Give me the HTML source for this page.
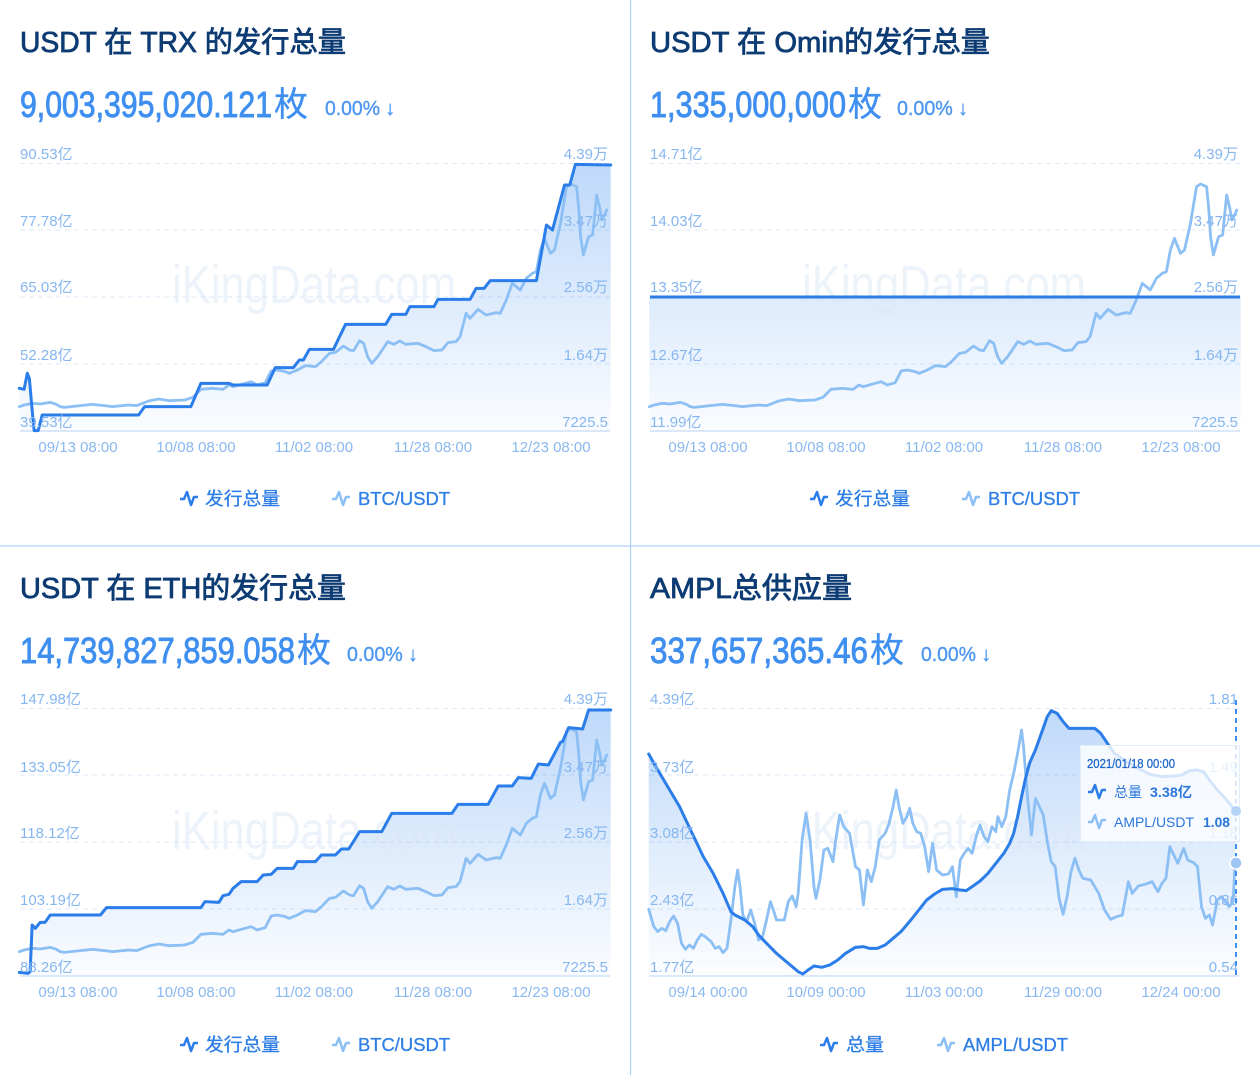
<!DOCTYPE html>
<html><head><meta charset="utf-8">
<style>
html,body{margin:0;padding:0;background:#fff;}
body{width:1260px;height:1092px;overflow:hidden;}
svg{display:block;font-family:"Liberation Sans","Noto Sans CJK SC",sans-serif;}
.ttl{font-size:29px;fill:#0d3b73;stroke:#0d3b73;stroke-width:0.8px;}
.num{font-size:36px;fill:#3f8ff0;stroke:#3f8ff0;stroke-width:0.9px;}
.mei{font-size:34px;fill:#3f8ff0;stroke:#3f8ff0;stroke-width:0.3px;}
.pct{font-size:20px;fill:#4f98f0;stroke:#4f98f0;stroke-width:0.4px;}
.ax{font-size:15px;fill:#86b6f0;}
.axr{font-size:15px;fill:#86b6f0;text-anchor:end;}
.xl{font-size:15px;fill:#8ab8f0;text-anchor:middle;}
.lg{font-size:18px;fill:#2d7ee6;stroke:#2d7ee6;stroke-width:0.3px;}
.wm{font-size:54px;fill:#dce8f7;opacity:0.5;}
.grid{stroke:#dce8f8;stroke-width:1;stroke-dasharray:5,4;}
.base{stroke:#cfe1f7;stroke-width:1.5;}
.p1{fill:none;stroke:#2b7de9;stroke-width:3;stroke-linejoin:round;stroke-linecap:round;}
.p2{fill:none;stroke:#8cbff4;stroke-width:2.8;stroke-linejoin:round;stroke-linecap:round;}
.fa{fill:url(#g);stroke:none;}
</style></head>
<body>
<svg width="1260" height="1092" viewBox="0 0 1260 1092" xmlns="http://www.w3.org/2000/svg">
<defs>
<linearGradient id="g" gradientUnits="userSpaceOnUse" x1="0" y1="75" x2="0" y2="880">
<stop offset="0" stop-color="#3b8cf0" stop-opacity="0.33"/>
<stop offset="1" stop-color="#3b8cf0" stop-opacity="0.02"/>
</linearGradient>
</defs>
<rect width="1260" height="1092" fill="#fff"/>

<line x1="630.5" y1="0" x2="630.5" y2="1075" stroke="#b0d0f5" stroke-width="1.2"/>
<line x1="0" y1="546" x2="1260" y2="546" stroke="#b0d0f5" stroke-width="1.2"/>

<!-- ============ TL ============ -->
<text class="ttl" x="20" y="52" textLength="326" lengthAdjust="spacingAndGlyphs">USDT 在 TRX 的发行总量</text>
<text class="num" x="20" y="117" textLength="252" lengthAdjust="spacingAndGlyphs">9,003,395,020.121</text>
<text class="mei" x="274" y="116">枚</text>
<text class="pct" x="325" y="115" textLength="70" lengthAdjust="spacingAndGlyphs">0.00% ↓</text>

<line class="grid" x1="20" y1="163.5" x2="610" y2="163.5"/>
<line class="grid" x1="20" y1="230" x2="610" y2="230"/>
<line class="grid" x1="20" y1="297" x2="610" y2="297"/>
<line class="grid" x1="20" y1="364" x2="610" y2="364"/>

<g transform="translate(0,140) scale(0.40179,0.33333)">
<path class="fa" d="M48,745 L60,748 L68,700 L73,715 L80,810 L85,872 L95,872 L105,825 L345,825 L360,800 L475,800 L500,730 L570,730 L580,735 L665,735 L685,683 L730,683 L745,660 L755,660 L770,628 L830,628 L860,553 L960,553 L975,523 L1010,523 L1020,500 L1080,500 L1090,478 L1170,478 L1185,445 L1205,445 L1220,422 L1335,422 L1360,255 L1375,270 L1405,135 L1418,135 L1432,73 L1520,75 L1520,873 L48,873 Z"/>
</g>
<text class="wm" x="172" y="303" textLength="284" lengthAdjust="spacingAndGlyphs">iKingData.com</text>
<line class="base" x1="20" y1="431" x2="610" y2="431"/>
<g transform="translate(0,140) scale(0.40179,0.33333)">
<path class="p2" vector-effect="non-scaling-stroke" d="M48,800 L60,795 L80,790 L100,792 L125,787 L140,793 L150,800 L160,802 L200,797 L230,793 L260,797 L280,800 L320,795 L340,797 L370,783 L395,777 L420,782 L460,780 L480,772 L500,748 L530,745 L555,748 L570,735 L580,740 L610,730 L625,725 L640,735 L660,728 L675,693 L690,690 L710,695 L720,700 L740,690 L760,677 L785,680 L800,665 L820,640 L835,637 L855,618 L870,630 L880,632 L895,602 L905,610 L915,650 L925,670 L940,650 L965,605 L980,613 L995,603 L1010,613 L1040,610 L1060,620 L1080,632 L1100,630 L1115,608 L1135,605 L1145,590 L1160,520 L1170,535 L1190,508 L1210,525 L1235,518 L1245,520 L1260,480 L1275,430 L1295,450 L1310,415 L1325,400 L1335,395 L1345,330 L1355,295 L1370,340 L1380,330 L1395,250 L1410,140 L1420,132 L1435,140 L1440,200 L1445,290 L1452,345 L1465,290 L1475,285 L1485,165 L1492,200 L1498,240 L1505,225 L1510,210"/>
<path class="p1" vector-effect="non-scaling-stroke" d="M48,745 L60,748 L68,700 L73,715 L80,810 L85,872 L95,872 L105,825 L345,825 L360,800 L475,800 L500,730 L570,730 L580,735 L665,735 L685,683 L730,683 L745,660 L755,660 L770,628 L830,628 L860,553 L960,553 L975,523 L1010,523 L1020,500 L1080,500 L1090,478 L1170,478 L1185,445 L1205,445 L1220,422 L1335,422 L1360,255 L1375,270 L1405,135 L1418,135 L1432,73 L1520,75"/>
</g>

<text class="ax" x="20" y="159">90.53亿</text>
<text class="ax" x="20" y="226">77.78亿</text>
<text class="ax" x="20" y="292">65.03亿</text>
<text class="ax" x="20" y="360">52.28亿</text>
<text class="ax" x="20" y="427">39.53亿</text>
<text class="axr" x="608" y="159">4.39万</text>
<text class="axr" x="608" y="226">3.47万</text>
<text class="axr" x="608" y="292">2.56万</text>
<text class="axr" x="608" y="360">1.64万</text>
<text class="axr" x="608" y="427">7225.5</text>
<text class="xl" x="78" y="452">09/13 08:00</text>
<text class="xl" x="196" y="452">10/08 08:00</text>
<text class="xl" x="314" y="452">11/02 08:00</text>
<text class="xl" x="433" y="452">11/28 08:00</text>
<text class="xl" x="551" y="452">12/23 08:00</text>

<path d="M180,499 L184,499 L187,492 L191,505 L194,497 L198,497" fill="none" stroke="#2b7de9" stroke-width="2.5" stroke-linejoin="round"/>
<text class="lg" x="205" y="505" textLength="75" lengthAdjust="spacingAndGlyphs">发行总量</text>
<path d="M332,499 L336,499 L339,492 L343,505 L346,497 L350,497" fill="none" stroke="#8cbff4" stroke-width="2.5" stroke-linejoin="round"/>
<text class="lg" x="358" y="505" textLength="92" lengthAdjust="spacingAndGlyphs">BTC/USDT</text>

<!-- ============ TR ============ -->
<text class="ttl" x="650" y="52" textLength="340" lengthAdjust="spacingAndGlyphs">USDT 在 Omin的发行总量</text>
<text class="num" x="650" y="117" textLength="196" lengthAdjust="spacingAndGlyphs">1,335,000,000</text>
<text class="mei" x="848" y="116">枚</text>
<text class="pct" x="897" y="115" textLength="71" lengthAdjust="spacingAndGlyphs">0.00% ↓</text>

<line class="grid" x1="650" y1="163.5" x2="1240" y2="163.5"/>
<line class="grid" x1="650" y1="230" x2="1240" y2="230"/>
<line class="grid" x1="650" y1="364" x2="1240" y2="364"/>
<g transform="translate(630,140) scale(0.40179,0.33333)">
<rect class="fa" x="48" y="470" width="1472" height="403"/>
</g>
<text class="wm" x="802" y="303" textLength="284" lengthAdjust="spacingAndGlyphs">iKingData.com</text>
<line class="base" x1="650" y1="431" x2="1240" y2="431"/>
<g transform="translate(630,140) scale(0.40179,0.33333)">
<path class="p2" vector-effect="non-scaling-stroke" d="M48,800 L60,795 L80,790 L100,792 L125,787 L140,793 L150,800 L160,802 L200,797 L230,793 L260,797 L280,800 L320,795 L340,797 L370,783 L395,777 L420,782 L460,780 L480,772 L500,748 L530,745 L555,748 L570,735 L580,740 L610,730 L625,725 L640,735 L660,728 L675,693 L690,690 L710,695 L720,700 L740,690 L760,677 L785,680 L800,665 L820,640 L835,637 L855,618 L870,630 L880,632 L895,602 L905,610 L915,650 L925,670 L940,650 L965,605 L980,613 L995,603 L1010,613 L1040,610 L1060,620 L1080,632 L1100,630 L1115,608 L1135,605 L1145,590 L1160,520 L1170,535 L1190,508 L1210,525 L1235,518 L1245,520 L1260,480 L1275,430 L1295,450 L1310,415 L1325,400 L1335,395 L1345,330 L1355,295 L1370,340 L1380,330 L1395,250 L1410,140 L1420,132 L1435,140 L1440,200 L1445,290 L1452,345 L1465,290 L1475,285 L1485,165 L1492,200 L1498,240 L1505,225 L1510,210"/>
</g>
<line x1="650" y1="297" x2="1240" y2="297" stroke="#2b7de9" stroke-width="3"/>

<text class="ax" x="650" y="159">14.71亿</text>
<text class="ax" x="650" y="226">14.03亿</text>
<text class="ax" x="650" y="292">13.35亿</text>
<text class="ax" x="650" y="360">12.67亿</text>
<text class="ax" x="650" y="427">11.99亿</text>
<text class="axr" x="1238" y="159">4.39万</text>
<text class="axr" x="1238" y="226">3.47万</text>
<text class="axr" x="1238" y="292">2.56万</text>
<text class="axr" x="1238" y="360">1.64万</text>
<text class="axr" x="1238" y="427">7225.5</text>
<text class="xl" x="708" y="452">09/13 08:00</text>
<text class="xl" x="826" y="452">10/08 08:00</text>
<text class="xl" x="944" y="452">11/02 08:00</text>
<text class="xl" x="1063" y="452">11/28 08:00</text>
<text class="xl" x="1181" y="452">12/23 08:00</text>

<path d="M810,499 L814,499 L817,492 L821,505 L824,497 L828,497" fill="none" stroke="#2b7de9" stroke-width="2.5" stroke-linejoin="round"/>
<text class="lg" x="835" y="505" textLength="75" lengthAdjust="spacingAndGlyphs">发行总量</text>
<path d="M962,499 L966,499 L969,492 L973,505 L976,497 L980,497" fill="none" stroke="#8cbff4" stroke-width="2.5" stroke-linejoin="round"/>
<text class="lg" x="988" y="505" textLength="92" lengthAdjust="spacingAndGlyphs">BTC/USDT</text>

<!-- ============ BL ============ -->
<text class="ttl" x="20" y="598" textLength="326" lengthAdjust="spacingAndGlyphs">USDT 在 ETH的发行总量</text>
<text class="num" x="20" y="663" textLength="275" lengthAdjust="spacingAndGlyphs">14,739,827,859.058</text>
<text class="mei" x="297" y="662">枚</text>
<text class="pct" x="347" y="661" textLength="71" lengthAdjust="spacingAndGlyphs">0.00% ↓</text>

<line class="grid" x1="20" y1="708.5" x2="610" y2="708.5"/>
<line class="grid" x1="20" y1="775" x2="610" y2="775"/>
<line class="grid" x1="20" y1="842" x2="610" y2="842"/>
<line class="grid" x1="20" y1="909" x2="610" y2="909"/>
<g transform="translate(0,685) scale(0.40179,0.33333)">
<path class="fa" d="M48,862 L70,865 L75,860 L80,720 L88,730 L100,712 L112,712 L125,690 L250,690 L265,668 L500,668 L510,650 L545,652 L555,632 L570,628 L580,610 L600,590 L640,590 L655,570 L675,568 L690,550 L730,550 L740,530 L785,530 L800,510 L835,510 L850,492 L868,492 L895,440 L950,440 L975,385 L1125,385 L1140,358 L1215,358 L1240,303 L1275,303 L1290,278 L1322,280 L1340,237 L1365,240 L1395,172 L1400,170 L1415,128 L1450,132 L1465,75 L1520,75 L1520,873 L48,873 Z"/>
</g>
<text class="wm" x="172" y="849" textLength="284" lengthAdjust="spacingAndGlyphs">iKingData.com</text>
<line class="base" x1="20" y1="976" x2="610" y2="976"/>
<g transform="translate(0,685) scale(0.40179,0.33333)">
<path class="p2" vector-effect="non-scaling-stroke" d="M48,800 L60,795 L80,790 L100,792 L125,787 L140,793 L150,800 L160,802 L200,797 L230,793 L260,797 L280,800 L320,795 L340,797 L370,783 L395,777 L420,782 L460,780 L480,772 L500,748 L530,745 L555,748 L570,735 L580,740 L610,730 L625,725 L640,735 L660,728 L675,693 L690,690 L710,695 L720,700 L740,690 L760,677 L785,680 L800,665 L820,640 L835,637 L855,618 L870,630 L880,632 L895,602 L905,610 L915,650 L925,670 L940,650 L965,605 L980,613 L995,603 L1010,613 L1040,610 L1060,620 L1080,632 L1100,630 L1115,608 L1135,605 L1145,590 L1160,520 L1170,535 L1190,508 L1210,525 L1235,518 L1245,520 L1260,480 L1275,430 L1295,450 L1310,415 L1325,400 L1335,395 L1345,330 L1355,295 L1370,340 L1380,330 L1395,250 L1410,140 L1420,132 L1435,140 L1440,200 L1445,290 L1452,345 L1465,290 L1475,285 L1485,165 L1492,200 L1498,240 L1505,225 L1510,210"/>
<path class="p1" vector-effect="non-scaling-stroke" d="M48,862 L70,865 L75,860 L80,720 L88,730 L100,712 L112,712 L125,690 L250,690 L265,668 L500,668 L510,650 L545,652 L555,632 L570,628 L580,610 L600,590 L640,590 L655,570 L675,568 L690,550 L730,550 L740,530 L785,530 L800,510 L835,510 L850,492 L868,492 L895,440 L950,440 L975,385 L1125,385 L1140,358 L1215,358 L1240,303 L1275,303 L1290,278 L1322,280 L1340,237 L1365,240 L1395,172 L1400,170 L1415,128 L1450,132 L1465,75 L1520,75"/>
</g>

<text class="ax" x="20" y="704">147.98亿</text>
<text class="ax" x="20" y="772">133.05亿</text>
<text class="ax" x="20" y="838">118.12亿</text>
<text class="ax" x="20" y="905">103.19亿</text>
<text class="ax" x="20" y="972">88.26亿</text>
<text class="axr" x="608" y="704">4.39万</text>
<text class="axr" x="608" y="772">3.47万</text>
<text class="axr" x="608" y="838">2.56万</text>
<text class="axr" x="608" y="905">1.64万</text>
<text class="axr" x="608" y="972">7225.5</text>
<text class="xl" x="78" y="997">09/13 08:00</text>
<text class="xl" x="196" y="997">10/08 08:00</text>
<text class="xl" x="314" y="997">11/02 08:00</text>
<text class="xl" x="433" y="997">11/28 08:00</text>
<text class="xl" x="551" y="997">12/23 08:00</text>

<path d="M180,1045 L184,1045 L187,1038 L191,1051 L194,1043 L198,1043" fill="none" stroke="#2b7de9" stroke-width="2.5" stroke-linejoin="round"/>
<text class="lg" x="205" y="1051" textLength="75" lengthAdjust="spacingAndGlyphs">发行总量</text>
<path d="M332,1045 L336,1045 L339,1038 L343,1051 L346,1043 L350,1043" fill="none" stroke="#8cbff4" stroke-width="2.5" stroke-linejoin="round"/>
<text class="lg" x="358" y="1051" textLength="92" lengthAdjust="spacingAndGlyphs">BTC/USDT</text>

<!-- ============ BR ============ -->
<text class="ttl" x="650" y="598" textLength="202" lengthAdjust="spacingAndGlyphs">AMPL总供应量</text>
<text class="num" x="650" y="663" textLength="218" lengthAdjust="spacingAndGlyphs">337,657,365.46</text>
<text class="mei" x="870" y="662">枚</text>
<text class="pct" x="921" y="661" textLength="70" lengthAdjust="spacingAndGlyphs">0.00% ↓</text>

<line class="grid" x1="649" y1="708.5" x2="1239" y2="708.5"/>
<line class="grid" x1="649" y1="775" x2="1239" y2="775"/>
<line class="grid" x1="649" y1="842" x2="1239" y2="842"/>
<line class="grid" x1="649" y1="909" x2="1239" y2="909"/>
<g transform="translate(640,680) scale(0.39541,0.33333)">
<path class="fa" d="M22,222 L40,260 L70,320 L100,380 L120,430 L140,480 L160,530 L185,580 L210,640 L230,695 L240,705 L265,720 L285,740 L300,765 L320,790 L345,820 L365,840 L385,860 L400,875 L412,882 L425,870 L440,858 L460,862 L480,855 L500,840 L520,820 L545,802 L565,800 L580,805 L600,805 L620,795 L640,775 L660,755 L685,720 L705,690 L725,660 L745,642 L765,628 L790,626 L810,630 L825,632 L840,620 L860,603 L880,580 L900,550 L920,520 L935,490 L945,460 L955,410 L965,350 L975,295 L985,250 L1000,210 L1015,160 L1030,110 L1040,92 L1055,100 L1070,125 L1085,145 L1150,145 L1165,160 L1185,195 L1200,220 L1230,245 L1260,265 L1290,283 L1320,290 L1350,288 L1370,285 L1390,272 L1410,270 L1425,275 L1440,300 L1460,330 L1480,355 L1505,390 L1505,887 L22,887 Z"/>
</g>
<text class="wm" x="802" y="849" textLength="284" lengthAdjust="spacingAndGlyphs">iKingData.com</text>
<line class="base" x1="649" y1="976" x2="1239" y2="976"/>
<g transform="translate(640,680) scale(0.39541,0.33333)">
<path class="p2" vector-effect="non-scaling-stroke" d="M22,688 L35,740 L45,755 L55,745 L65,752 L75,725 L85,708 L95,730 L105,790 L115,808 L125,795 L135,805 L145,780 L155,763 L165,770 L180,785 L190,805 L200,800 L210,818 L220,805 L230,720 L240,620 L247,570 L253,620 L260,705 L270,725 L280,690 L290,730 L300,780 L310,770 L320,720 L330,665 L340,700 L345,720 L365,720 L375,665 L385,648 L395,680 L400,640 L410,480 L420,400 L430,480 L440,620 L445,655 L455,600 L465,510 L475,505 L488,545 L495,480 L505,405 L515,440 L530,460 L545,560 L555,570 L565,675 L575,570 L585,605 L595,560 L605,480 L620,460 L630,430 L640,380 L648,330 L655,380 L665,430 L675,410 L682,385 L690,430 L700,455 L710,460 L720,500 L730,575 L740,490 L750,570 L765,585 L780,582 L790,560 L800,650 L810,540 L820,520 L830,505 L840,520 L850,470 L860,435 L870,470 L880,485 L890,440 L900,455 L905,410 L915,440 L925,410 L935,330 L945,280 L955,220 L965,150 L970,200 L980,350 L990,465 L1000,355 L1010,380 L1020,405 L1030,485 L1040,545 L1050,560 L1060,655 L1070,703 L1080,650 L1090,575 L1100,535 L1110,570 L1120,595 L1140,600 L1160,640 L1175,690 L1190,718 L1205,710 L1220,705 L1235,605 L1245,640 L1260,618 L1280,612 L1295,605 L1310,635 L1320,610 L1330,595 L1340,500 L1350,525 L1360,550 L1375,505 L1385,540 L1400,548 L1410,560 L1420,680 L1430,715 L1440,705 L1448,735 L1460,660 L1470,650 L1480,665 L1490,680 L1500,665 L1505,548"/>
<path class="p1" vector-effect="non-scaling-stroke" d="M22,222 L40,260 L70,320 L100,380 L120,430 L140,480 L160,530 L185,580 L210,640 L230,695 L240,705 L265,720 L285,740 L300,765 L320,790 L345,820 L365,840 L385,860 L400,875 L412,882 L425,870 L440,858 L460,862 L480,855 L500,840 L520,820 L545,802 L565,800 L580,805 L600,805 L620,795 L640,775 L660,755 L685,720 L705,690 L725,660 L745,642 L765,628 L790,626 L810,630 L825,632 L840,620 L860,603 L880,580 L900,550 L920,520 L935,490 L945,460 L955,410 L965,350 L975,295 L985,250 L1000,210 L1015,160 L1030,110 L1040,92 L1055,100 L1070,125 L1085,145 L1150,145 L1165,160 L1185,195 L1200,220 L1230,245 L1260,265 L1290,283 L1320,290 L1350,288 L1370,285 L1390,272 L1410,270 L1425,275 L1440,300 L1460,330 L1480,355 L1505,390"/>
</g>

<text class="ax" x="650" y="704">4.39亿</text>
<text class="ax" x="650" y="772">3.73亿</text>
<text class="ax" x="650" y="838">3.08亿</text>
<text class="ax" x="650" y="905">2.43亿</text>
<text class="ax" x="650" y="972">1.77亿</text>
<text class="axr" x="1238" y="704">1.81</text>
<text class="axr" x="1238" y="772">1.49</text>
<text class="axr" x="1238" y="838">1.18</text>
<text class="axr" x="1238" y="905">0.86</text>
<text class="axr" x="1238" y="972">0.54</text>
<text class="xl" x="708" y="997">09/14 00:00</text>
<text class="xl" x="826" y="997">10/09 00:00</text>
<text class="xl" x="944" y="997">11/03 00:00</text>
<text class="xl" x="1063" y="997">11/29 00:00</text>
<text class="xl" x="1181" y="997">12/24 00:00</text>

<line x1="1236" y1="700" x2="1236" y2="976" stroke="#3d8ef0" stroke-width="2" stroke-dasharray="5,4"/>

<rect x="1080.5" y="745.5" width="159" height="96" fill="#ffffff" fill-opacity="0.8" stroke="#e3eefb" stroke-width="1"/>
<text x="1087" y="768" font-size="13" fill="#1f66c8" stroke="#1f66c8" stroke-width="0.3" textLength="88" lengthAdjust="spacingAndGlyphs">2021/01/18 00:00</text>
<path d="M1088,792 L1092,792 L1095,785 L1099,798 L1102,790 L1106,790" fill="none" stroke="#2b7de9" stroke-width="2.5" stroke-linejoin="round"/>
<text x="1114" y="797" font-size="14" fill="#2a76dc" textLength="28" lengthAdjust="spacingAndGlyphs">总量</text>
<text x="1150" y="797" font-size="14" font-weight="bold" fill="#2a76dc" textLength="42" lengthAdjust="spacingAndGlyphs">3.38亿</text>
<path d="M1088,822 L1092,822 L1095,815 L1099,828 L1102,820 L1106,820" fill="none" stroke="#8cbff4" stroke-width="2.5" stroke-linejoin="round"/>
<text x="1114" y="827" font-size="14" fill="#2a76dc" textLength="80" lengthAdjust="spacingAndGlyphs">AMPL/USDT</text>
<text x="1203" y="827" font-size="14" font-weight="bold" fill="#2a76dc" textLength="27" lengthAdjust="spacingAndGlyphs">1.08</text>

<circle cx="1236" cy="811" r="5" fill="#b6d4f7"/>
<circle cx="1236" cy="863" r="6" fill="#9ec6f5" stroke="#ffffff" stroke-width="1.5"/>

<path d="M820,1045 L824,1045 L827,1038 L831,1051 L834,1043 L838,1043" fill="none" stroke="#2b7de9" stroke-width="2.5" stroke-linejoin="round"/>
<text class="lg" x="846" y="1051" textLength="38" lengthAdjust="spacingAndGlyphs">总量</text>
<path d="M937,1045 L941,1045 L944,1038 L948,1051 L951,1043 L955,1043" fill="none" stroke="#8cbff4" stroke-width="2.5" stroke-linejoin="round"/>
<text class="lg" x="963" y="1051" textLength="105" lengthAdjust="spacingAndGlyphs">AMPL/USDT</text>
</svg>
</body></html>
